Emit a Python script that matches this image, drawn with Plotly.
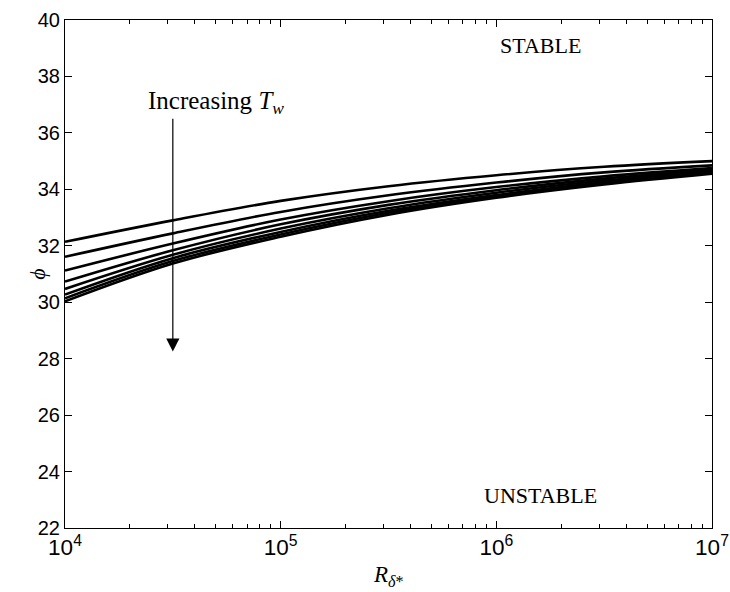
import plotly.graph_objects as go

R = [1e4, 3.1623e4, 1e5, 3.1623e5, 1e6, 3.1623e6, 1e7]
phi_curves = [
    [32.14, 32.90, 33.59, 34.11, 34.50, 34.80, 35.00],
    [31.61, 32.44, 33.20, 33.79, 34.24, 34.60, 34.85],
    [31.12, 32.08, 32.93, 33.58, 34.08, 34.46, 34.75],
    [30.73, 31.84, 32.76, 33.45, 33.97, 34.38, 34.69],
    [30.47, 31.68, 32.61, 33.33, 33.88, 34.31, 34.65],
    [30.27, 31.56, 32.49, 33.24, 33.80, 34.25, 34.61],
    [30.14, 31.46, 32.40, 33.17, 33.75, 34.21, 34.58],
    [30.03, 31.37, 32.32, 33.10, 33.70, 34.17, 34.55],
]
y_ticks = list(range(22, 41, 2))

fig = go.Figure()
for phi in phi_curves:
    fig.add_trace(go.Scatter(x=R, y=phi, mode="lines",
                             line=dict(color="black", width=2.6, shape="spline"),
                             showlegend=False, hoverinfo="skip"))

serif = "Liberation Serif, DejaVu Serif, serif"
sans = "Liberation Sans, Arial, sans-serif"

fig.update_layout(
    width=730, height=592,
    margin=dict(l=65, r=18, t=20, b=64),
    plot_bgcolor="white", paper_bgcolor="white",
    xaxis=dict(type="log", range=[4, 7], dtick=1, exponentformat="power",
               showexponent="all", ticks="inside", ticklen=7, tickwidth=1,
               tickcolor="black", showline=True, linecolor="black", linewidth=1.2,
               mirror="ticks", showgrid=False, zeroline=False, automargin=False,
               ticklabeloverflow="allow",
               tickfont=dict(family=sans, size=18, color="black"),
               minor=dict(ticks="inside", ticklen=4, tickcolor="black", showgrid=False)),
    yaxis=dict(range=[22, 40], tickvals=y_ticks, ticks="inside", ticklen=7,
               tickwidth=1, tickcolor="black", showline=True, linecolor="black",
               linewidth=1.2, mirror="ticks", showgrid=False, zeroline=False,
               automargin=False, ticklabeloverflow="allow",
               tickfont=dict(family=sans, size=20, color="black")),
)

fig.add_annotation(x=0.5, y=-0.125, xref="paper", yref="paper",
                   text="<i>R</i><sub><i>δ</i>*</sub>", showarrow=False,
                   font=dict(family=serif, size=23, color="black"))
fig.add_annotation(x=-0.066, y=0.5, xref="paper", yref="paper", textangle=-90,
                   text="<i>ϕ</i>", showarrow=False,
                   font=dict(family=serif, size=22, color="black"))

fig.add_annotation(x=6.207, y=39.08, xref="x", yref="y", text="STABLE",
                   showarrow=False, font=dict(family=serif, size=22, color="black"))
fig.add_annotation(x=6.207, y=23.16, xref="x", yref="y", text="UNSTABLE",
                   showarrow=False, font=dict(family=serif, size=22, color="black"))
fig.add_annotation(x=4.70, y=37.06, xref="x", yref="y", text="Increasing <i>T<sub>w</sub></i>",
                   showarrow=False, font=dict(family=serif, size=25, color="black"))
fig.add_annotation(x=4.5, y=28.25, ax=4.5, ay=36.55, xref="x", yref="y",
                   axref="x", ayref="y", text="", showarrow=True,
                   arrowhead=2, arrowsize=2.2, arrowwidth=1.2, arrowcolor="black")

fig.write_html("out.html", config={"displayModeBar": False},
               post_script="document.body.style.margin='0';document.body.style.overflow='hidden';")
